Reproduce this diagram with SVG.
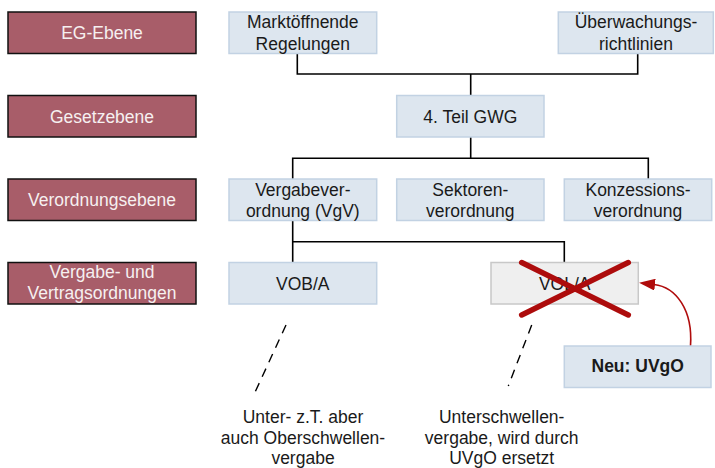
<svg xmlns="http://www.w3.org/2000/svg" width="715" height="468" viewBox="0 0 715 468">
<defs>
<style>
text{font-family:"Liberation Sans",Arial,sans-serif;font-size:17.5px;text-anchor:middle;fill:#1a1a1a}
.lvl rect{fill:#a85d69;stroke:#111;stroke-width:1.5}
.lvl text{fill:#f6f0f0}
.box rect{fill:#dde6ef;stroke:#c2d2e3;stroke-width:1.5}
.conn{fill:none;stroke:#000;stroke-width:1.6}
.dash{fill:none;stroke:#000;stroke-width:1.4;stroke-dasharray:9 7}
</style>
<marker id="ah" markerWidth="16" markerHeight="12" refX="1" refY="6" orient="auto" markerUnits="userSpaceOnUse">
<path d="M0,0 L16,6 L0,12 Z" fill="#b00c0c"/>
</marker>
</defs>
<rect width="715" height="468" fill="#fff"/>

<g id="lvl-eg" class="lvl"><rect x="8" y="12" width="188" height="41.5"/><text x="102" y="38.5">EG-Ebene</text></g>
<g id="lvl-gesetz" class="lvl"><rect x="8" y="95.5" width="188" height="41.5"/><text x="102" y="122.5">Gesetzebene</text></g>
<g id="lvl-vo" class="lvl"><rect x="8" y="179" width="188" height="41.5"/><text x="102" y="206">Verordnungsebene</text></g>
<g id="lvl-vergabe" class="lvl"><rect x="8" y="262.5" width="188" height="41.5"/><text x="102" y="278">Vergabe- und</text><text x="102" y="299">Vertragsordnungen</text></g>

<g id="connectors">
<path class="conn" d="M297.3 53.5 V74 H637.7 V53.5 M470.7 74 V95.5"/>
<path class="conn" d="M470.7 137 V158.3 M292.7 179 V158.3 H648.3 V179"/>
<path class="conn" d="M292.7 220.5 V262.5 M292.7 241.7 H564.3 V262.5"/>
<path class="dash" d="M286 325 L253.3 396"/>
<path class="dash" d="M531.7 325 L508.3 386"/>
<path d="M690.5 346 C693 310 676 287 654 284.5" fill="none" stroke="#b00c0c" stroke-width="1.6" marker-end="url(#ah)"/>
</g>

<g id="n-markt" class="box"><rect x="229" y="12" width="147.7" height="41.5"/><text x="302.8" y="27.5">Marktöffnende</text><text x="302.8" y="49.5">Regelungen</text></g>
<g id="n-ueber" class="box"><rect x="558.3" y="12" width="155" height="41.5"/><text x="636" y="27.5">Überwachungs-</text><text x="636" y="49.5">richtlinien</text></g>
<g id="n-gwg" class="box"><rect x="396.7" y="95.5" width="147.3" height="41.5"/><text x="470.3" y="122.7">4. Teil GWG</text></g>
<g id="n-vgv" class="box"><rect x="229" y="179" width="147.7" height="41.5"/><text x="302.8" y="195.5">Vergabever-</text><text x="302.8" y="217">ordnung (VgV)</text></g>
<g id="n-sektor" class="box"><rect x="396.7" y="179" width="147.3" height="41.5"/><text x="470.3" y="195.5">Sektoren-</text><text x="470.3" y="217">verordnung</text></g>
<g id="n-konz" class="box"><rect x="564.3" y="179" width="147.4" height="41.5"/><text x="638" y="195.5">Konzessions-</text><text x="638" y="217">verordnung</text></g>
<g id="n-vob" class="box"><rect x="229" y="262.5" width="147.7" height="41.5"/><text x="302.8" y="289.5">VOB/A</text></g>
<g id="n-vol"><rect x="491" y="262.5" width="147.3" height="41.5" fill="#efefef" stroke="#c8c8c8" stroke-width="1.5"/><text x="564.7" y="289.5" fill="#c0c0c0">VOL/A</text>
<path d="M521.7 262.5 L628.3 315 M628.3 262.5 L521.7 315" stroke="#ad0c0c" stroke-width="5.5" stroke-linecap="round"/></g>
<g id="n-uvgo" class="box"><rect x="564.3" y="346" width="146.7" height="41.5"/><text x="637.7" y="372" font-weight="bold">Neu: UVgO</text></g>

<g id="note-vob"><text x="303" y="422.5">Unter- z.T. aber</text><text x="303" y="443.5">auch Oberschwellen-</text><text x="303" y="464">vergabe</text></g>
<g id="note-vol"><text x="501.7" y="422.5">Unterschwellen-</text><text x="501.7" y="443.5">vergabe, wird durch</text><text x="501.7" y="464">UVgO ersetzt</text></g>
</svg>
